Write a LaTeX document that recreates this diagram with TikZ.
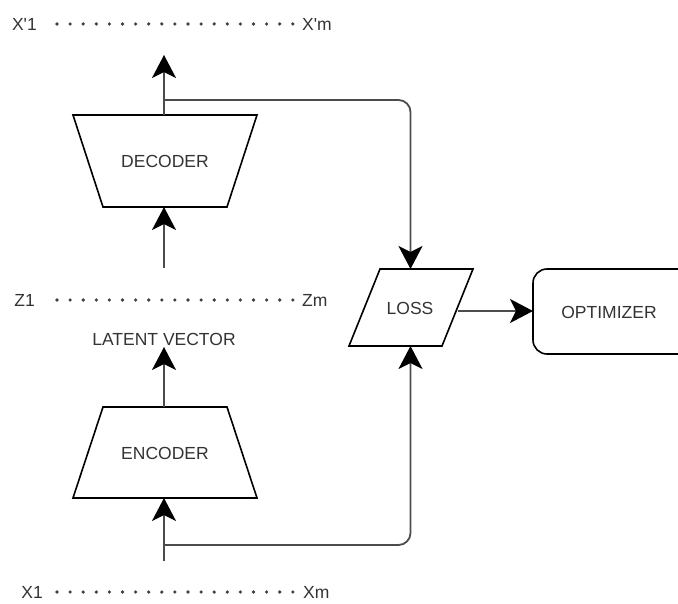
\documentclass[tikz,border=0pt]{standalone}
\usepackage{fontspec}
\setmainfont{Liberation Sans}[Ligatures=TeXOff]
\usetikzlibrary{arrows.meta}
\begin{document}
\begin{tikzpicture}[x=1pt,y=-1pt,
  txt/.style={inner sep=0pt, text height=12.5pt, text depth=0pt, text=black!80, font=\fontsize{17.5pt}{20pt}\selectfont},
  dots/.style={draw=black!75, line width=3.6pt, line cap=round, dash pattern=on 0pt off 13.1pt},
  shapeline/.style={draw=black, line width=1.6pt, line join=miter},
  link/.style={draw=black!70, line width=1.8pt, rounded corners=12pt},
  conn/.style={link, -{Stealth[length=23pt,width=24pt,inset=6pt,color=black]}}
]
\useasboundingbox (0,0) rectangle (678,604);
% rows of values
\node[txt, anchor=east] (xp1) at (37,24) {X'1};
\node[txt, anchor=west] (xpm) at (302,24) {X'm};
\draw[dots] ([xshift=20pt]xp1.east) -- ([xshift=-9pt]xpm.west);
\node[txt, anchor=east] (z1) at (35,300) {Z1};
\node[txt, anchor=west] (zm) at (302,300) {Zm};
\draw[dots] ([xshift=22pt]z1.east) -- ([xshift=-9pt]zm.west);
\node[txt] (latent) at (164,339) {LATENT VECTOR};
\node[txt, anchor=east] (x1) at (43,592) {X1};
\node[txt, anchor=west] (xm) at (303,592) {Xm};
\draw[dots] ([xshift=14pt]x1.east) -- ([xshift=-10pt]xm.west);
% decoder
\draw[shapeline] (73,115) -- (257,115) -- (227,207) -- (103,207) -- cycle;
\node[txt] (dec) at (165,161) {DECODER};
% encoder
\draw[shapeline] (103,407) -- (227,407) -- (257,498) -- (73,498) -- cycle;
\node[txt] (enc) at (165,453) {ENCODER};
% loss
\draw[shapeline] (380,269) -- (473,269) -- (442,346) -- (349,346) -- cycle;
\node[txt] (loss) at (410,308) {LOSS};
% optimizer
\begin{scope}
\clip (0,0) rectangle (678,604);
\draw[shapeline, rounded corners=14pt] (533,269) rectangle (700,354);
\end{scope}
\node[txt] (opt) at (609,312) {OPTIMIZER};
% coordinates
\coordinate (dectop) at (164,115);
\coordinate (decbot) at (164,207);
\coordinate (enctop) at (164,407);
\coordinate (encbot) at (164,498);
\coordinate (outtip) at (164,55);
\coordinate (zin) at (164,268);
\coordinate (zout) at (164,347);
\coordinate (xin) at (164,561);
\coordinate (brT) at (164,100);
\coordinate (brB) at (164,545);
\coordinate (losstop) at (410.5,269);
\coordinate (lossbot) at (410.5,346);
\coordinate (lossright) at (458,311);
\coordinate (optleft) at (533,311);
% connectors
\draw[conn] (dectop) -- (outtip);
\draw[conn] (zin) -- (decbot);
\draw[conn] (enctop) -- (zout);
\draw[conn] (xin) -- (encbot);
\draw[conn] (brT) -| (losstop);
\draw[conn] (brB) -| (lossbot);
\draw[conn] (lossright) -- (optleft);
\end{tikzpicture}
\end{document}
